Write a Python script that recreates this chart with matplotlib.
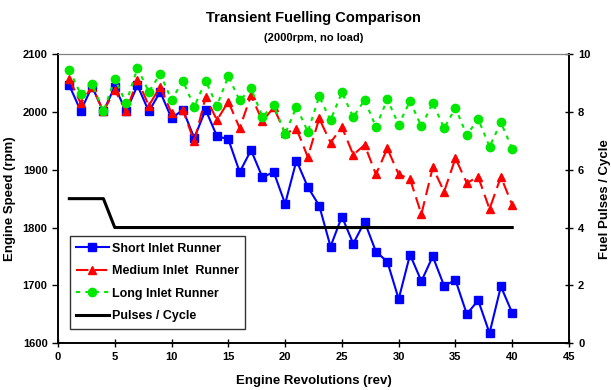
import numpy as np
import matplotlib
matplotlib.use("Agg")
import matplotlib.pyplot as plt

plt.rcParams['font.family'] = ['Liberation Sans', 'DejaVu Sans']
plt.rcParams['font.weight'] = 'bold'

revs = list(range(1, 41))

# Engine speed (rpm)
short_runner = [2046, 2002, 2044, 2001, 2044, 2001, 2046, 2001, 2035, 1989,
                2004, 1955, 2004, 1958, 1953, 1896, 1934, 1887, 1896, 1841,
                1916, 1870, 1838, 1767, 1819, 1772, 1810, 1758, 1741, 1676,
                1753, 1707, 1750, 1699, 1709, 1650, 1674, 1617, 1698, 1652]
medium_runner = [2057, 2015, 2044, 2001, 2038, 2001, 2056, 2011, 2044, 1998,
                 2003, 1949, 2026, 1986, 2018, 1972, 2029, 1984, 2008, 1963,
                 1971, 1922, 1989, 1947, 1974, 1926, 1943, 1892, 1937, 1892,
                 1884, 1823, 1904, 1862, 1920, 1877, 1888, 1832, 1888, 1839]
long_runner = [2073, 2031, 2049, 2001, 2057, 2016, 2076, 2035, 2066, 2021,
               2054, 2009, 2054, 2011, 2062, 2020, 2041, 1992, 2012, 1962,
               2009, 1966, 2027, 1986, 2034, 1991, 2021, 1974, 2022, 1978,
               2019, 1975, 2016, 1972, 2007, 1960, 1988, 1940, 1982, 1936]
pulses = [5, 5, 5, 5] + [4] * 36

fig = plt.figure(figsize=(6.11, 3.90), dpi=100)
ax1 = fig.add_axes([0.0949, 0.1205, 0.8364, 0.7403])
ax2 = ax1.twinx()

l1, = ax1.plot(revs, short_runner, color='#0000ff', lw=1.5, marker='s',
               markersize=5.5, label='Short Inlet Runner')
l2, = ax1.plot(revs, medium_runner, color='#ff0000', lw=1.5, marker='^',
               markersize=6, dashes=(6, 3), label='Medium Inlet  Runner')
l3, = ax1.plot(revs, long_runner, color='#00e800', lw=1.5, marker='o',
               markersize=6, dashes=(2, 2.5), label='Long Inlet Runner')
l4, = ax2.plot(revs, pulses, color='black', lw=2.2, label='Pulses / Cycle')

ax1.set_xlim(0, 45)
ax1.set_ylim(1600, 2100)
ax2.set_ylim(0, 10)
ax1.set_xticks(np.arange(0, 46, 5))
ax1.set_yticks(np.arange(1600, 2101, 100))
ax2.set_yticks(np.arange(0, 11, 2))

ax1.set_xlabel('Engine Revolutions (rev)', fontsize=9.5, fontweight='bold', labelpad=9)
ax1.set_ylabel('Engine Speed (rpm)', fontsize=9.5, fontweight='bold', labelpad=5)
ax2.set_ylabel('Fuel Pulses / Cycle', fontsize=9.5, fontweight='bold', labelpad=6)

for ax in (ax1, ax2):
    ax.tick_params(labelsize=8, width=1, length=4)
    for lab in ax.get_xticklabels() + ax.get_yticklabels():
        lab.set_fontweight('bold')
    ax.spines['top'].set_color('#808080')
    ax.spines['left'].set_linewidth(1.2)
    ax.spines['right'].set_linewidth(1.2)
    ax.spines['bottom'].set_linewidth(1.2)
ax1.tick_params(axis='x', direction='inout', length=6)
ax2.tick_params(axis='y', direction='inout', length=6)

fig.text(0.513, 0.955, 'Transient Fuelling Comparison', ha='center', va='center',
         fontsize=10.5, fontweight='bold')
fig.text(0.513, 0.902, '(2000rpm, no load)', ha='center', va='center',
         fontsize=8, fontweight='bold')

leg = ax1.legend(handles=[l1, l2, l3, l4], loc='lower left',
                 bbox_to_anchor=(0.011, 0.028), frameon=True, fancybox=False,
                 edgecolor='black', fontsize=9, handlelength=2.6,
                 borderpad=0.5, labelspacing=0.85, handletextpad=0.25)
leg.get_frame().set_linewidth(1.0)
for t in leg.get_texts():
    t.set_fontweight('bold')

fig.savefig('out.png', dpi=100)
